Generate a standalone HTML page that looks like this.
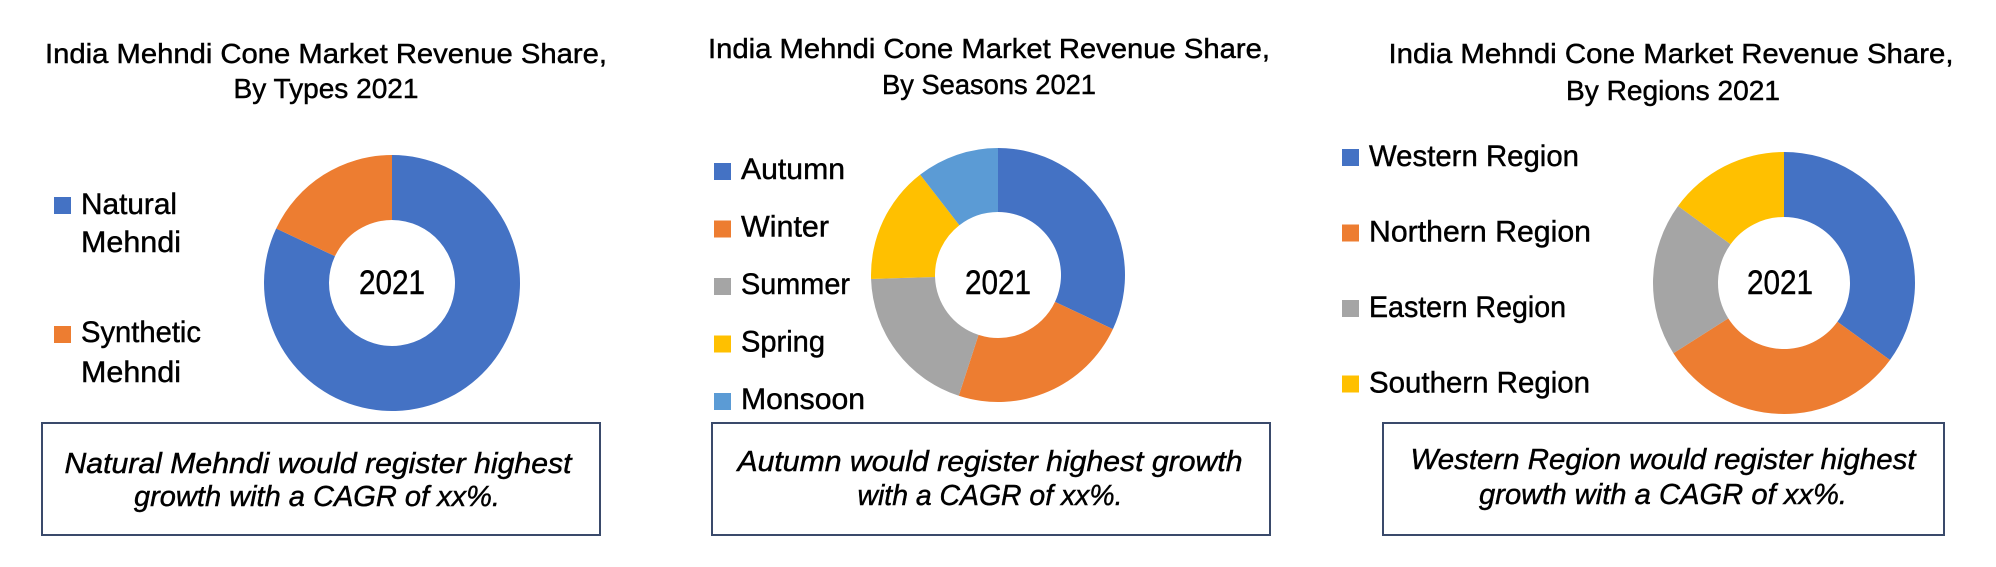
<!DOCTYPE html>
<html><head><meta charset="utf-8"><style>
html,body{margin:0;padding:0;background:#fff;width:1996px;height:567px;overflow:hidden}
svg{display:block}
text{font-family:"Liberation Sans",sans-serif;fill:#000;stroke:#000;stroke-width:0.45px}
</style></head><body>
<svg id="s" width="1996" height="567" viewBox="0 0 1996 567" xmlns="http://www.w3.org/2000/svg"></svg>
<script>
const typesCats=["Natural Mehndi","Synthetic Mehndi"];
const typesVals=[82,18];
const seasonCats=["Autumn","Winter","Summer","Spring","Monsoon"];
const seasonVals=[32,23,19.5,15,10.5];
const regionCats=["Western Region","Northern Region","Eastern Region","Southern Region"];
const regionVals=[35,31,19,15];
const colors=["#4472C4","#ED7D31","#A5A5A5","#FFC000","#5B9BD5"];
const NS="http://www.w3.org/2000/svg";
const svg=document.getElementById('s');
function el(tag,attrs,parent){const e=document.createElementNS(NS,tag);for(const k in attrs)e.setAttribute(k,attrs[k]);(parent||svg).appendChild(e);return e;}
function txt(x,y,s,size,len,anchor,italic,parent,name){
  const t=el('text',{x:x,y:y,'font-size':size,'text-anchor':anchor||'start',textLength:len,lengthAdjust:'spacingAndGlyphs'},parent);
  if(italic)t.setAttribute('font-style','italic');
  
  
  t.textContent=s;return t;}
function donut(g,cx,cy,R,r,vals,name){
  const tot=vals.reduce((a,b)=>a+b,0);let a0=0;
  vals.forEach((v,i)=>{
    const a1=a0+v/tot*2*Math.PI;
    const p=(rad,a)=>[cx+rad*Math.sin(a),cy-rad*Math.cos(a)];
    const [x1,y1]=p(R,a0),[x2,y2]=p(R,a1),[x3,y3]=p(r,a1),[x4,y4]=p(r,a0);
    const lg=(a1-a0)>Math.PI?1:0;
    const path=el('path',{d:`M${x1},${y1}A${R},${R} 0 ${lg} 1 ${x2},${y2}L${x3},${y3}A${r},${r} 0 ${lg} 0 ${x4},${y4}Z`,fill:colors[i]},g);
    
    
    a0=a1;});
}
const panels=[
 {name:'types',cats:typesCats,vals:typesVals,t1:[326,63,562],t2:["By Types 2021",326,98,185],
  c:[392,283,128,63],yr:[392,294,66],
  legend:[[54,197,[["Natural",81,214,96],["Mehndi",81,252,100]]],[54,326,[["Synthetic",81,342,120],["Mehndi",81,382,100]]]],
  box:[42,423,558,112],b1:["Natural Mehndi would register highest",318,473,507],b2:["growth with a CAGR of xx%.",317,506,366]},
 {name:'seasons',cats:seasonCats,vals:seasonVals,t1:[989,58,562],t2:["By Seasons 2021",989,94,214],
  c:[998,275,127,63],yr:[998,294,66],
  legend:seasonCats.map((c,i)=>[714,163+i*57.5,[[c,741,179+i*57.5,[104,88,109,84,124][i]]]]),
  box:[712,423,558,112],b1:["Autumn would register highest growth",990,471,505],b2:["with a CAGR of xx%.",990,505,265]},
 {name:'regions',cats:regionCats,vals:regionVals,t1:[1671,63,565],t2:["By Regions 2021",1673,100,214],
  c:[1784,283,131,66],yr:[1780,294,66],
  legend:regionCats.map((c,i)=>[1342,149+i*75.5,[[c,1369,166+i*75.5,[210,222,197,221][i]]]]),
  box:[1383,423,561,112],b1:["Western Region would register highest",1663,469,505],b2:["growth with a CAGR of xx%.",1663,504,368]}
];
panels.forEach(P=>{
  const g=el('g',{});
  
  
  txt(P.t1[0],P.t1[1],"India Mehndi Cone Market Revenue Share,",28,P.t1[2],'middle',false,g,P.name+'-title-line1');
  txt(P.t2[1],P.t2[2],P.t2[0],28,P.t2[3],'middle',false,g,P.name+'-title-line2');
  donut(g,P.c[0],P.c[1],P.c[2],P.c[3],P.vals,P.name);
  txt(P.yr[0],P.yr[1],"2021",34,P.yr[2],'middle',false,g,P.name+'-center-label');
  P.legend.forEach((L,i)=>{
    const sq=el('rect',{x:L[0],y:L[1],width:17,height:17,fill:colors[i]},g);
    
    
    L[2].forEach(t=>txt(t[1],t[2],t[0],30,t[3],'start',false,g,P.name+'-legend-entry-'+i));
  });
  const b=el('rect',{x:P.box[0],y:P.box[1],width:P.box[2],height:P.box[3],fill:'none',stroke:'#3A4A6B','stroke-width':2},g);
  
  
  txt(P.b1[1],P.b1[2],P.b1[0],29,P.b1[3],'middle',true,g,P.name+'-callout-line1');
  txt(P.b2[1],P.b2[2],P.b2[0],29,P.b2[3],'middle',true,g,P.name+'-callout-line2');
});
</script>
</body></html>
